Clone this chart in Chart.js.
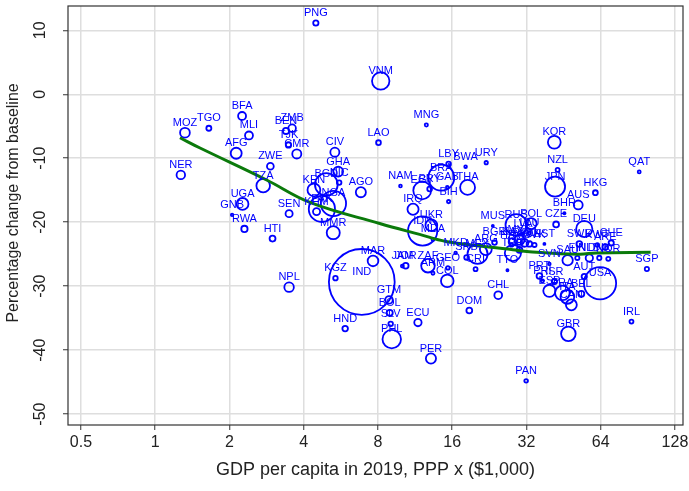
<!DOCTYPE html>
<html>
<head>
<meta charset="utf-8">
<script src="https://cdn.jsdelivr.net/npm/chart.js@4.4.0/dist/chart.umd.min.js"></script>
<style>
  html, body { margin: 0; padding: 0; background: #fff; }
</style>
</head>
<body>
<canvas id="chart" width="689" height="491"></canvas>
<script>
// country codes, GDP per capita (PPP, $1,000), % change from baseline, population (millions)
var countries = ['PNG','VNM','LAO','MNG','MOZ','TGO','BFA','MLI','AFG','BEN','ZMB','TJK','CMR','ZWE','NER','TZA','UGA','GNB','RWA','HTI','SEN','NPL',
  'CIV','GHA','NIC','BGD','KEN','NGA','PAK','KHM','MMR','AGO','NAM','KGZ','IND','MAR','JAM','JOR','GTM','BOL','SLV','PHL','HND','ECU','PER','DOM','CHL',
  'PAN','GBR','IRL','USA','SGP','QAT','HKG','AUS','BHR','CZE','DEU','KOR','NZL','JPN','LBY','BWA','URY','EGY','PRY','BRA','GAB','THA','BIH','IRQ','UKR',
  'IDN','MDA','MUS','RUS','POL','ARG','MEX','MKD','SRB','CRI','BGR','TTO','TUR','ZAF','GEO','COL','ARM','MYS','ROU','KAZ','HRV','GRC','LVA','LTU','HUN','SVK',
  'EST','SVN','SAU','FIN','NLD','DNK','NOR','SWE','KWT','CHE','ARE','AUT','PRT','PRI','ISR','ESP','FRA','ITA','BEL','CAN'];
var gdp = [4.48,8.21,8.04,12.57,1.32,1.65,2.25,2.40,2.13,3.39,3.59,3.47,3.75,2.93,1.27,2.74,2.26,2.05,2.30,2.99,3.49,3.49,
  5.35,5.52,5.57,4.94,4.40,5.28,4.74,4.51,5.27,6.82,9.87,5.38,6.88,7.64,10.05,10.37,8.87,8.93,9.01,9.10,5.89,11.62,13.12,18.77,24.59,
  31.91,47.33,85.3,63.6,98.5,91.7,60.9,51.9,45.6,42.2,54.9,41.5,42.8,41.8,15.47,18.13,21.98,12.09,12.96,14.45,15.28,18.47,15.47,11.10,13.17,
  12.14,13.37,23.38,29.08,33.43,21.9,20.27,16.52,18.30,19.90,23.75,26.8,28.2,12.76,15.37,15.28,13.37,29.98,31.41,28.09,27.82,29.98,31.0,32.9,32.9,34.49,
  37.84,39.64,47.0,51.46,57.56,63.17,68.7,52.4,62.0,70.6,66.8,54.9,36.12,37.14,41.54,39.64,44.75,46.89,53.4,48.67];
var change = [11.14,2.08,-7.56,-4.80,-6.00,-5.31,-3.39,-6.44,-9.22,-5.73,-5.31,-7.92,-9.33,-11.25,-12.61,-14.28,-17.14,-18.86,-21.05,-22.56,-18.66,-30.16,
  -9.06,-12.09,-13.81,-14.09,-14.95,-17.06,-17.92,-18.34,-21.63,-15.31,-14.33,-28.75,-29.33,-26.05,-26.86,-26.80,-32.14,-34.17,-35.89,-38.28,-36.63,-35.69,-41.31,-33.81,-31.41,
  -44.80,-37.45,-35.53,-29.53,-27.30,-12.14,-15.38,-17.30,-18.59,-20.34,-21.05,-7.50,-11.83,-14.44,-10.89,-11.31,-10.69,-15.03,-14.80,-13.03,-14.53,-14.56,-16.78,-17.97,-20.47,
  -21.36,-22.69,-20.58,-20.42,-20.22,-24.20,-24.95,-24.80,-25.50,-27.34,-23.16,-27.50,-24.80,-26.80,-27.14,-29.17,-27.97,-22.77,-23.23,-23.08,-23.55,-24.33,-21.80,-21.67,-23.39,-23.55,
  -23.39,-26.52,-25.94,-25.58,-25.58,-25.58,-25.73,-23.40,-23.55,-23.23,-23.86,-28.50,-28.39,-29.17,-29.28,-30.73,-31.05,-31.67,-31.20,-32.92];
var pop = [8.8,96,7.2,3.2,30,8,20,20,38,12,18,9.3,26,14.6,23,58,44,1.9,12.6,11,16,28.6,
  26,30,6.5,163,52,201,217,16,54,32,2.5,6.4,1366,36,2.9,10,17.6,11.5,6.5,108,9.7,17,32.5,10.7,19,
  4.2,67,4.9,328,5.7,2.8,7.5,25,1.6,10.7,83,51.7,5,126,6.8,2.3,3.5,100,7,211,2.2,70,3.3,39,44,
  270,2.7,1.3,144,38,45,127,2.1,7,5,7,1.4,83,58,3.7,50,3,32,19,18.5,4,10.7,1.9,2.8,9.8,5.5,
  1.3,2.1,34,5.5,17,5.8,5.3,10.3,4.2,8.6,9.8,8.9,10.3,3.2,9,47,67,60,11.5,37.6];

// fitted trend
var fitGdp = [1.26, 1.52, 2.83, 4.24, 8.13, 11.8, 15.1, 28.2, 32.9, 52.4, 61.3, 102];
var fitChange = [-6.8, -8.4, -13.4, -16.9, -20.2, -21.9, -23.0, -24.3, -24.6, -25.0, -24.8, -24.7];

var xTicks = [0.5, 1, 2, 4, 8, 16, 32, 64, 128];
var xTickLabels = ['0.5', '1', '2', '4', '8', '16', '32', '64', '128'];
var yTicks = [-50, -40, -30, -20, -10, 0, 10];
var yTitle = 'Percentage change from baseline';

var FONT = '"Liberation Sans", Arial, Helvetica, sans-serif';
var BLUE = '#0000ff';

var bubbles = countries.map(function(c, i) {
  return { x: gdp[i], y: change[i], r: 0.89 * Math.sqrt(pop[i]) };
});
var fitLine = fitGdp.map(function(g, i) { return { x: g, y: fitChange[i] }; });

// fixed axis sizes so the plot box sits where the original one does
function fixSize(prop, size) {
  return function(s) {
    s[prop] = size;
    s.paddingTop = s.paddingBottom = s.paddingLeft = s.paddingRight = 0;
  };
}

// box round the plot + y title (sits a bit above the middle of the axis in the original)
var framePlugin = {
  id: 'frame',
  afterDraw: function(chart) {
    var a = chart.chartArea, ctx = chart.ctx;
    ctx.save();
    ctx.strokeStyle = '#333';
    ctx.lineWidth = 1.2;
    ctx.strokeRect(a.left, a.top, a.right - a.left, a.bottom - a.top);
    ctx.translate(14, a.top + (a.bottom - a.top) * 0.47);
    ctx.rotate(-Math.PI / 2);
    ctx.font = '16px ' + FONT;
    ctx.fillStyle = '#222';
    ctx.textAlign = 'center';
    ctx.textBaseline = 'middle';
    ctx.fillText(yTitle, 0, 0);
    ctx.restore();
  }
};

var labelPlugin = {
  id: 'codes',
  afterDatasetsDraw: function(chart) {
    var meta = chart.getDatasetMeta(1);
    var ctx = chart.ctx;
    ctx.save();
    ctx.font = '11px ' + FONT;
    ctx.fillStyle = BLUE;
    ctx.textAlign = 'center';
    ctx.textBaseline = 'alphabetic';
    meta.data.forEach(function(pt, i) {
      ctx.fillText(countries[i], pt.x, pt.y - 7);
    });
    ctx.restore();
  }
};

new Chart(document.getElementById('chart'), {
  type: 'bubble',
  data: {
    datasets: [
      {
        type: 'line',
        data: fitLine,
        borderColor: '#0b7a0b',
        borderWidth: 3,
        pointRadius: 0,
        tension: 0.4,
        fill: false
      },
      {
        data: bubbles,
        borderColor: BLUE,
        backgroundColor: 'rgba(0,0,0,0)',
        borderWidth: 1.8,
        hoverRadius: 0
      }
    ]
  },
  options: {
    responsive: false,
    animation: false,
    devicePixelRatio: 1,
    layout: { autoPadding: false, padding: { top: 6, right: 6, bottom: 0, left: 0 } },
    plugins: { legend: { display: false }, tooltip: { enabled: false } },
    scales: {
      x: {
        type: 'logarithmic',
        min: 0.443,
        max: 138,
        afterBuildTicks: function(s) { s.ticks = xTicks.map(function(v) { return { value: v }; }); },
        afterFit: fixSize('height', 66),
        border: { display: false },
        grid: { color: '#dedede', lineWidth: 1.5, tickLength: 5, tickColor: '#333', tickWidth: 1 },
        ticks: {
          autoSkip: false, maxRotation: 0, padding: 3, color: '#222',
          font: { family: FONT, size: 16 },
          callback: function(v, i) { return xTickLabels[i]; }
        },
        title: {
          display: true, text: 'GDP per capita in 2019, PPP x ($1,000)', color: '#222',
          font: { family: FONT, size: 18 }, padding: { top: 0, bottom: 10 }
        }
      },
      y: {
        min: -51.7,
        max: 13.8,
        afterBuildTicks: function(s) { s.ticks = yTicks.map(function(v) { return { value: v }; }); },
        afterFit: fixSize('width', 68),
        border: { display: false },
        grid: { color: '#dedede', lineWidth: 1.5, tickLength: 5, tickColor: '#333', tickWidth: 1 },
        ticks: {
          minRotation: 90, maxRotation: 90, crossAlign: 'center', padding: 11, color: '#222',
          font: { family: FONT, size: 16 }
        }
      }
    }
  },
  plugins: [framePlugin, labelPlugin]
});
</script>
</body>
</html>
